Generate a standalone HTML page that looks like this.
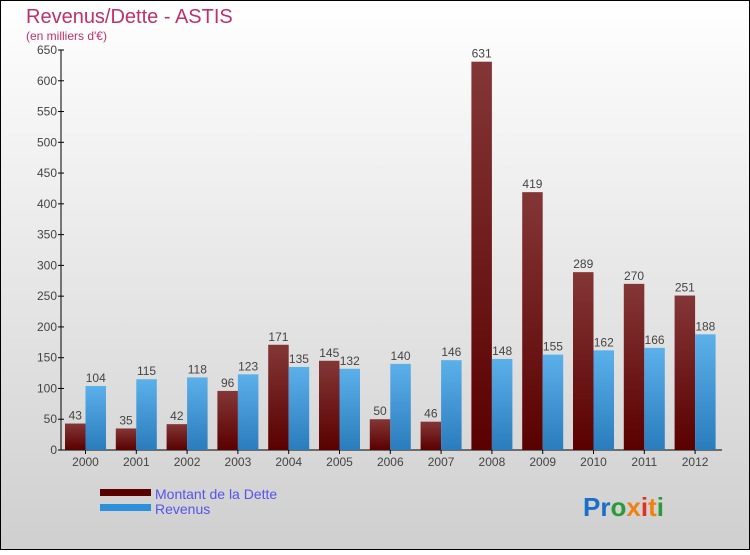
<!DOCTYPE html>
<html><head><meta charset="utf-8"><style>
html,body{margin:0;padding:0;}
body{width:750px;height:550px;overflow:hidden;font-family:"Liberation Sans",sans-serif;}
</style></head><body>
<svg id="chart" width="750" height="550" xmlns="http://www.w3.org/2000/svg" font-family="Liberation Sans, sans-serif">
<defs>
<linearGradient id="bg" x1="0" y1="0" x2="0" y2="1"><stop offset="0" stop-color="#ffffff"/><stop offset="1" stop-color="#cfcfcf"/></linearGradient>
<linearGradient id="gd" x1="0" y1="0" x2="0" y2="1"><stop offset="0" stop-color="#843636"/><stop offset="1" stop-color="#5a0000"/></linearGradient>
<linearGradient id="gr" x1="0" y1="0" x2="0" y2="1"><stop offset="0" stop-color="#5cb0ea"/><stop offset="1" stop-color="#2a7cbc"/></linearGradient>
</defs>
<rect x="0.5" y="0.5" width="749" height="549" fill="url(#bg)" stroke="#000"/>
<text x="26" y="23" font-size="20" fill="#c0306a">Revenus/Dette - ASTIS</text>
<text x="26" y="40" font-size="12" fill="#c0306a">(en milliers d'€)</text>
<g id="plot"></g>
<rect x="100" y="489" width="51" height="7" fill="#5a0000"/>
<text x="155" y="499" font-size="14" fill="#5555ee">Montant de la Dette</text>
<rect x="100" y="504" width="51" height="7" fill="#2e90da"/>
<text x="155" y="514" font-size="14" fill="#5555ee">Revenus</text>
<text x="583" y="516" font-size="26" font-weight="bold"><tspan fill="#1a6fc8">Pr</tspan><tspan fill="#2a9a3a">o</tspan><tspan fill="#f08010">x</tspan><tspan fill="#e03020">i</tspan><tspan fill="#f08010">t</tspan><tspan fill="#2a9a3a">i</tspan></text>
</svg>
<script>
const years=["2000","2001","2002","2003","2004","2005","2006","2007","2008","2009","2010","2011","2012"];
const dette=[43,35,42,96,171,145,50,46,631,419,289,270,251];
const revenus=[104,115,118,123,135,132,140,146,148,155,162,166,188];
const yTicks=[0,50,100,150,200,250,300,350,400,450,500,550,600,650];
const NS="http://www.w3.org/2000/svg";
const g=document.getElementById('plot');
const y0=450,yTop=50,yMax=650,axX=61,x0=63,step=50.8;
function yS(v){return y0-(v/yMax)*(y0-yTop);}
function xS(i){return x0+i*step;}
function mk(t,a){const e=document.createElementNS(NS,t);for(const k in a)e.setAttribute(k,a[k]);g.appendChild(e);return e;}
// axes
let ax=mk('line',{x1:axX,y1:yTop,x2:axX,y2:y0,stroke:'#000'});


let bx=mk('line',{x1:axX,y1:y0,x2:722,y2:y0,stroke:'#000'});


yTicks.forEach(v=>{
 const tk=mk('line',{x1:axX-3,y1:yS(v),x2:axX+3,y2:yS(v),stroke:'#000'});
 
 
 const t=mk('text',{x:axX-4,y:yS(v)+4,'font-size':12,'text-anchor':'end',fill:'#444'});
 t.textContent=v;
 
 
});
years.forEach((yr,i)=>{
 const bx0=xS(i)+2,w=20.5;
 const d=mk('rect',{x:bx0,y:yS(dette[i]),width:w,height:y0-yS(dette[i]),fill:'url(#gd)'});
 
 
 const r=mk('rect',{x:bx0+w,y:yS(revenus[i]),width:w,height:y0-yS(revenus[i]),fill:'url(#gr)'});
 
 
 const l1=mk('text',{x:bx0+w/2,y:yS(dette[i])-4,'font-size':12,'text-anchor':'middle',fill:'#444'});
 l1.textContent=dette[i];
 
 
 const l2=mk('text',{x:bx0+w*1.5,y:yS(revenus[i])-4,'font-size':12,'text-anchor':'middle',fill:'#444'});
 l2.textContent=revenus[i];
 
 
 const tk=mk('line',{x1:bx0+w,y1:y0,x2:bx0+w,y2:y0+4,stroke:'#000'});
 
 
 const xl=mk('text',{x:bx0+w,y:y0+16,'font-size':12,'text-anchor':'middle',fill:'#444'});
 xl.textContent=yr;
 
 
});
</script>
</body></html>
